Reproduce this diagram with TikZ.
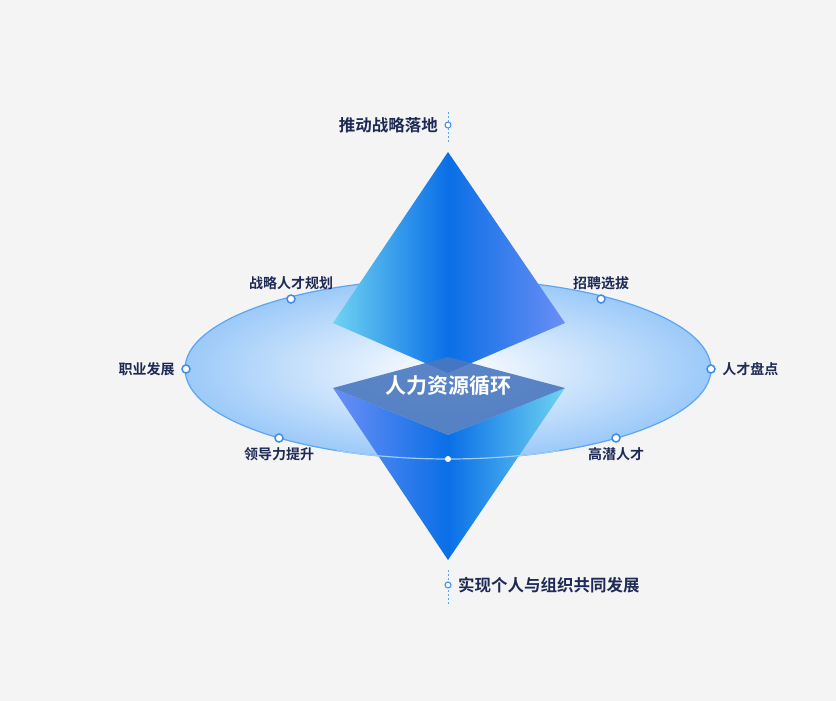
\documentclass[tikz,border=0pt]{standalone}
\usepackage{fontspec}
\setmainfont{Noto Sans CJK SC}[BoldFont={Noto Sans CJK SC Bold}]
\usetikzlibrary{positioning}
\definecolor{bgc}{HTML}{F4F4F4}
\definecolor{ringc}{HTML}{5AA6F5}
\definecolor{txtc}{HTML}{1E2A55}
\definecolor{cyanc}{HTML}{6FD3F2}
\definecolor{bluec}{HTML}{0A6FE6}
\definecolor{peric}{HTML}{6B8EF5}
\definecolor{slatec}{HTML}{4A78C0}
\tikzset{
  dot/.style={circle,draw=bluec!80,fill=white,line width=1.5pt,inner sep=0pt,minimum size=8pt},
  lbl/.style={font=\bfseries\fontsize{14}{16}\selectfont,text=txtc},
  biglbl/.style={font=\bfseries\fontsize{16.5}{18}\selectfont,text=txtc}
}
\begin{document}
\begin{tikzpicture}[x=1pt,y=-1pt]
\fill[bgc] (0,0) rectangle (836,701);
\useasboundingbox (0,0) rectangle (836,701);
% ring
\shade[inner color=white,outer color=ringc!60] (448,369) ellipse [x radius=263,y radius=90];
\draw[ringc,line width=1.2pt] (448,369) ellipse [x radius=263,y radius=90];
% upper pyramid
\shade[left color=cyanc,right color=bluec] (448,152) -- (333,323) -- (448,373) -- cycle;
\shade[left color=bluec,right color=peric] (448,152) -- (448,373) -- (565,323) -- cycle;
% lower pyramid
\shade[left color=peric,right color=bluec] (333,388) -- (448,435) -- (448,560) -- cycle;
\shade[left color=bluec,right color=cyanc] (448,435) -- (565,388) -- (448,560) -- cycle;
% middle plate
\fill[slatec,opacity=0.9] (333,388) -- (448,357) -- (565,388) -- (448,435) -- cycle;
\node[font=\bfseries\fontsize{21}{23}\selectfont,text=white] (core) at (448,386) {人力资源循环};
% front arc of ring
\draw[ringc!60!white,line width=1.2pt] (448,369) ++(65:263 and 90) arc[start angle=65,end angle=115,x radius=263,y radius=90];
% points on ring
\node[dot] (d1) at (291,299) {};
\node[dot] (d2) at (601,299) {};
\node[dot] (d3) at (186,369) {};
\node[dot] (d4) at (711,369) {};
\node[dot] (d5) at (279,438) {};
\node[dot] (d6) at (616,438) {};
\node[circle,fill=white,inner sep=0pt,minimum size=6pt] (d7) at (448,459) {};
\node[lbl,above=1pt of d1] {战略人才规划};
\node[lbl,above=1pt of d2] {招聘选拔};
\node[lbl,left=3pt of d3] {职业发展};
\node[lbl,right=3pt of d4] {人才盘点};
\node[lbl,below=1pt of d5] {领导力提升};
\node[lbl,below=1pt of d6] {高潜人才};
% top and bottom goals
\coordinate (t1) at (448,112);
\coordinate (t2) at (448,142);
\draw[ringc,line width=0.8pt,dash pattern=on 2pt off 2pt] (t1) -- (t2);
\node[dot,minimum size=6pt,line width=1pt] (top) at (448,125) {};
\node[biglbl,left=3pt of top] {推动战略落地};
\coordinate (b1) at (448,570);
\coordinate (b2) at (448,606);
\draw[ringc,line width=0.8pt,dash pattern=on 2pt off 2pt] (b1) -- (b2);
\node[dot,minimum size=6pt,line width=1pt] (bot) at (448,585) {};
\node[biglbl,right=3pt of bot] {实现个人与组织共同发展};
\end{tikzpicture}
\end{document}
